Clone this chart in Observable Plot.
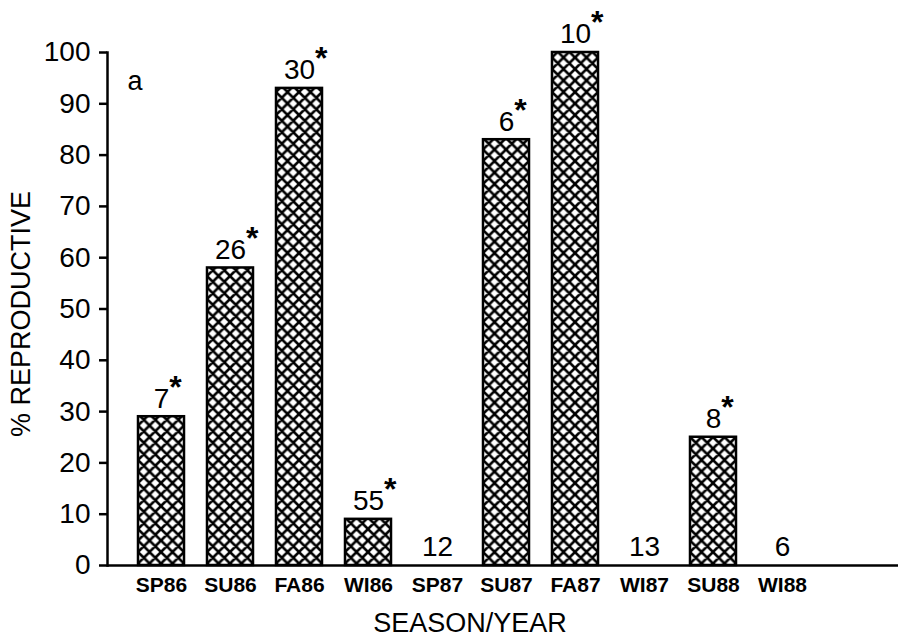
<!DOCTYPE html>
<html>
<head>
<meta charset="utf-8">
<script src="https://cdn.jsdelivr.net/npm/d3@7"></script>
<script src="https://cdn.jsdelivr.net/npm/@observablehq/plot@0.6"></script>
<style>
  body { margin: 0; background: #fff; }
  svg { font-family: "Liberation Sans", Arial, sans-serif; }
</style>
</head>
<body>
<div id="chart"></div>
<script>
const seasons = ["SP86", "SU86", "FA86", "WI86", "SP87", "SU87", "FA87", "WI87", "SU88", "WI88"];
const pctReproductive = [29, 58, 93, 9, 0, 83, 100, 0, 25, 0];
const sampleSizes = [7, 26, 30, 55, 12, 6, 10, 13, 8, 6];
const significant = [true, true, true, true, false, true, true, false, true, false];
const yTicks = [0, 10, 20, 30, 40, 50, 60, 70, 80, 90, 100];
const panelLabel = "a";
const xTitle = "SEASON/YEAR";
const yTitle = "% REPRODUCTIVE";

const data = seasons.map((s, i) => ({season: s, pct: pctReproductive[i], n: sampleSizes[i], sig: significant[i]}));

const S = 11.5;
function hatchDefs() {
  const defs = d3.create("svg:defs");
  const p = defs.append("pattern")
    .attr("id", "hatch")
    .attr("patternUnits", "userSpaceOnUse")
    .attr("width", S).attr("height", S);
  p.append("rect").attr("width", S).attr("height", S).attr("fill", "white");
  let d = "";
  for (const k of [-1, 0, 1]) {
    d += `M${-S + k * S},${-S}L${2 * S + k * S},${2 * S}`;
    d += `M${2 * S + k * S},${-S}L${-S + k * S},${2 * S}`;
  }
  p.append("path").attr("d", d).attr("stroke", "black").attr("stroke-width", 2.6).attr("fill", "none");
  return defs.node();
}

const plot = Plot.plot({
  width: 900,
  height: 641,
  marginTop: 52,
  marginBottom: 76,
  marginLeft: 107,
  marginRight: 2,
  style: {background: "white", color: "black", fontFamily: '"Liberation Sans", Arial, sans-serif'},
  x: {domain: seasons, range: [107, 836], paddingInner: 0.33, paddingOuter: 0.43, label: null},
  y: {domain: [0, 100], label: null},
  marks: [
    hatchDefs,
    Plot.barY(data.filter(d => d.pct > 0), {x: "season", y: "pct", fill: "url(#hatch)", stroke: "black", strokeWidth: 2.5}),
    Plot.ruleY([0], {stroke: "black", strokeWidth: 2.5}),
    Plot.frame({anchor: "left", stroke: "black", strokeWidth: 2.5}),
    Plot.axisY({ticks: yTicks, tickSize: 8, tickPadding: 9, fontSize: 28, strokeWidth: 2.5, label: null}),
    Plot.axisX({tickSize: 0, tickPadding: 12, fontSize: 21, fontWeight: "bold", label: null}),
    Plot.text(data, {x: "season", y: "pct", text: d => String(d.n), fontSize: 28, dy: -18}),
    Plot.text([panelLabel], {text: d => d, frameAnchor: "top-left", textAnchor: "start", dx: 20, dy: 18, fontSize: 27}),
    Plot.text([xTitle], {text: d => d, frameAnchor: "bottom", textAnchor: "middle", lineAnchor: "top", dx: -33, dy: 47, fontSize: 27}),
    Plot.text([yTitle], {text: d => d, frameAnchor: "left", textAnchor: "middle", rotate: -90, dx: -86, dy: 5, fontSize: 27})
  ]
});

// add superscript asterisks for significant samples
const groups = d3.select(plot).selectAll('g[aria-label="text"]').nodes();
if (groups.length) {
  d3.select(groups[0]).selectAll("text").each(function(_, j) {
    const d = data[j];
    if (!d || !d.sig) return;
    const t = d3.select(this);
    const num = t.text();
    t.text(null);
    t.append("tspan").attr("font-size", 32).attr("font-weight", "bold").attr("visibility", "hidden").text("*");
    t.append("tspan").text(num);
    t.append("tspan").attr("font-size", 32).attr("font-weight", "bold").attr("dy", -10).text("*");
  });
}

document.getElementById("chart").appendChild(plot);
</script>
</body>
</html>
